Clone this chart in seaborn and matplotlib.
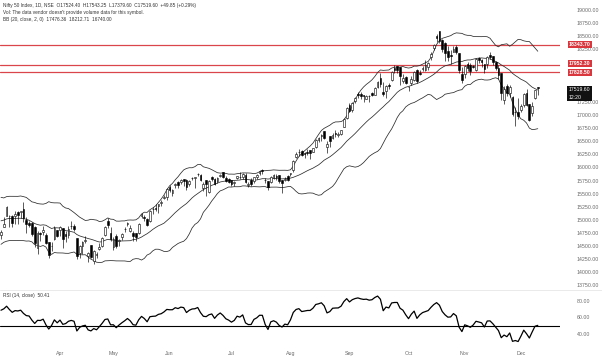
import numpy as np
import pandas as pd
import matplotlib
matplotlib.use("Agg")
import matplotlib.pyplot as plt
import matplotlib.transforms as mtransforms
import seaborn as sns

# ---------------- data ----------------
# warm-up closes (Feb 2021) used only for indicator calculation
warmup_close = [14281, 14647, 14790, 14896, 14924, 15116, 15110, 15106, 15173, 15163,
                15315, 15313, 15209, 15119, 14982, 14676, 14708, 14982, 15097, 14529]

month_keys = ["2021-03", "2021-04", "2021-05", "2021-06", "2021-07",
              "2021-08", "2021-09", "2021-10", "2021-11", "2021-12"]
month_labels = ["Mar", "Apr", "May", "Jun", "Jul", "Aug", "Sep", "Oct", "Nov", "Dec"]

days_mar = [1, 2, 3, 4, 5, 8, 9, 10, 12, 15, 16, 17, 18, 19, 22, 23, 24, 25, 26, 30, 31]
days_apr = [1, 5, 6, 7, 8, 9, 12, 13, 15, 16, 19, 20, 22, 23, 26, 27, 28, 29, 30]
days_may = [3, 4, 5, 6, 7, 10, 11, 12, 14, 17, 18, 19, 20, 21, 24, 25, 26, 27, 28, 31]
days_jun = [1, 2, 3, 4, 7, 8, 9, 10, 11, 14, 15, 16, 17, 18, 21, 22, 23, 24, 25, 28, 29, 30]
days_jul = [1, 2, 5, 6, 7, 8, 9, 12, 13, 14, 15, 16, 19, 20, 22, 23, 26, 27, 28, 29, 30]
days_aug = [2, 3, 4, 5, 6, 9, 10, 11, 12, 13, 16, 17, 18, 20, 23, 24, 25, 26, 27, 30, 31]
days_sep = [1, 2, 3, 6, 7, 8, 9, 13, 14, 15, 16, 17, 20, 21, 22, 23, 24, 27, 28, 29, 30]
days_oct = [1, 4, 5, 6, 7, 8, 11, 12, 13, 14, 18, 19, 20, 21, 22, 25, 26, 27, 28, 29]
days_nov = [1, 2, 3, 4, 8, 9, 10, 11, 12, 15, 16, 17, 18, 22, 23, 24, 25, 26, 29, 30]
days_dec = [1, 2, 3, 6, 7, 8, 9]

ohlc_mar = [(14702, 14806, 14638, 14761), (14864, 15052, 14864, 14919), (15064, 15273, 15064, 15245),
            (15064, 15093, 14863, 15080), (15065, 15092, 14863, 14938), (15065, 15162, 14919, 15115),
            (15155, 15174, 14916, 15098), (15143, 15176, 15034, 15174), (15202, 15336, 14954, 15030),
            (14996, 15051, 14745, 14929), (14946, 14981, 14865, 14910), (14947, 14956, 14696, 14721),
            (14855, 14875, 14478, 14557), (14471, 14778, 14350, 14744), (14737, 14763, 14597, 14736),
            (14768, 14878, 14707, 14814), (14713, 14753, 14535, 14549), (14570, 14575, 14265, 14324),
            (14499, 14572, 14414, 14507), (14628, 14877, 14617, 14845), (14811, 14813, 14670, 14691)]
ohlc_apr = [(14798, 14883, 14692, 14867), (14837, 14849, 14459, 14638), (14737, 14779, 14573, 14684),
            (14716, 14879, 14650, 14819), (14876, 14984, 14821, 14873), (14882, 14918, 14785, 14834),
            (14644, 14653, 14252, 14310), (14364, 14528, 14265, 14504), (14497, 14598, 14353, 14581),
            (14599, 14697, 14559, 14617), (14306, 14382, 14191, 14359), (14526, 14528, 14273, 14296),
            (14219, 14424, 14151, 14406), (14326, 14384, 14273, 14341), (14449, 14557, 14421, 14485),
            (14493, 14667, 14484, 14653), (14710, 14890, 14694, 14865), (14979, 15044, 14841, 14895),
            (14747, 14855, 14602, 14631)]
ohlc_may = [(14481, 14673, 14417, 14634), (14688, 14723, 14462, 14496), (14604, 14637, 14506, 14618),
            (14668, 14743, 14611, 14724), (14816, 14863, 14765, 14823), (14928, 14967, 14880, 14942),
            (14789, 14900, 14771, 14851), (14750, 14781, 14592, 14697), (14749, 14749, 14591, 14677),
            (14756, 14938, 14725, 14923), (15073, 15126, 15042, 15108), (15058, 15083, 14985, 15030),
            (15019, 15044, 14885, 14906), (14987, 15190, 14962, 15175), (15211, 15254, 15104, 15197),
            (15219, 15293, 15171, 15208), (15257, 15305, 15128, 15301), (15323, 15384, 15271, 15337),
            (15421, 15469, 15394, 15435), (15437, 15606, 15374, 15583)]
ohlc_jun = [(15629, 15660, 15528, 15574), (15521, 15597, 15459, 15576), (15655, 15705, 15612, 15690),
            (15713, 15733, 15606, 15670), (15725, 15773, 15678, 15751), (15774, 15778, 15649, 15740),
            (15766, 15788, 15566, 15635), (15692, 15752, 15649, 15738), (15797, 15823, 15766, 15799),
            (15791, 15823, 15607, 15811), (15867, 15901, 15842, 15869), (15847, 15880, 15749, 15768),
            (15612, 15715, 15559, 15691), (15757, 15761, 15450, 15683), (15525, 15765, 15505, 15746),
            (15813, 15836, 15749, 15772), (15783, 15800, 15673, 15687), (15738, 15821, 15707, 15790),
            (15839, 15870, 15809, 15860), (15916, 15916, 15792, 15814), (15807, 15835, 15724, 15748),
            (15776, 15800, 15705, 15721)]
ohlc_jul = [(15755, 15755, 15648, 15680), (15705, 15738, 15636, 15722), (15793, 15845, 15780, 15834),
            (15813, 15914, 15776, 15818), (15819, 15893, 15779, 15879), (15856, 15893, 15702, 15727),
            (15673, 15729, 15632, 15690), (15766, 15789, 15644, 15692), (15750, 15820, 15709, 15812),
            (15808, 15870, 15772, 15853), (15886, 15952, 15864, 15924), (15956, 15962, 15882, 15923),
            (15754, 15790, 15707, 15752), (15746, 15749, 15578, 15632), (15729, 15837, 15705, 15824),
            (15800, 15869, 15783, 15856), (15842, 15880, 15769, 15824), (15860, 15863, 15705, 15746),
            (15762, 15767, 15513, 15709), (15762, 15817, 15739, 15778), (15827, 15862, 15744, 15763)]
ohlc_aug = [(15874, 15892, 15834, 15885), (15951, 16146, 15914, 16130), (16195, 16290, 16177, 16258),
            (16288, 16349, 16210, 16295), (16304, 16336, 16223, 16238), (16284, 16301, 16189, 16258),
            (16287, 16360, 16237, 16280), (16327, 16339, 16162, 16282), (16303, 16375, 16286, 16364),
            (16386, 16543, 16376, 16529), (16518, 16589, 16480, 16563), (16600, 16628, 16495, 16615),
            (16691, 16701, 16535, 16569), (16382, 16509, 16270, 16451), (16592, 16592, 16395, 16496),
            (16562, 16647, 16535, 16625), (16656, 16712, 16589, 16634), (16627, 16683, 16582, 16637),
            (16642, 16722, 16611, 16705), (16775, 16952, 16765, 16931), (16947, 17153, 16916, 17132)]
ohlc_sep = [(17186, 17226, 17055, 17076), (17095, 17245, 17060, 17234), (17262, 17341, 17220, 17324),
            (17400, 17430, 17330, 17377), (17401, 17437, 17304, 17362), (17375, 17383, 17254, 17353),
            (17313, 17380, 17299, 17369), (17363, 17378, 17255, 17355), (17420, 17439, 17368, 17380),
            (17387, 17532, 17386, 17519), (17541, 17645, 17518, 17629), (17709, 17793, 17537, 17585),
            (17443, 17622, 17362, 17397), (17450, 17578, 17326, 17562), (17580, 17610, 17490, 17546),
            (17670, 17843, 17646, 17823), (17898, 17948, 17799, 17853), (17932, 17943, 17802, 17855),
            (17907, 17913, 17577, 17748), (17658, 17782, 17614, 17711), (17718, 17742, 17585, 17618)]
ohlc_oct = [(17531, 17557, 17452, 17532), (17615, 17750, 17581, 17691), (17661, 17833, 17640, 17822),
            (17862, 17884, 17613, 17646), (17810, 17857, 17763, 17790), (17887, 17941, 17841, 17895),
            (17867, 18041, 17839, 17946), (17916, 18008, 17865, 17992), (18097, 18198, 18050, 18162),
            (18272, 18351, 18248, 18339), (18500, 18543, 18402, 18477), (18602, 18604, 18377, 18419),
            (18439, 18458, 18200, 18267), (18382, 18384, 18034, 18179), (18230, 18315, 18034, 18115),
            (18154, 18241, 17968, 18125), (18204, 18310, 18198, 18268), (18295, 18342, 18167, 18211),
            (18188, 18190, 17799, 17857), (17784, 17916, 17614, 17672)]
ohlc_nov = [(17784, 17954, 17697, 17930), (17970, 18012, 17832, 17889), (17947, 17988, 17757, 17830),
            (17935, 17947, 17900, 17916), (17867, 18087, 17837, 18068), (18084, 18112, 17984, 18044),
            (18041, 18061, 17915, 18017), (17967, 17971, 17798, 17873), (17977, 18123, 17905, 18103),
            (18141, 18210, 18071, 18109), (18127, 18132, 17959, 18017), (18007, 18022, 17862, 17899),
            (17890, 17946, 17688, 17765), (17796, 17806, 17280, 17417), (17281, 17553, 17217, 17503),
            (17550, 17600, 17354, 17416), (17418, 17564, 17351, 17537), (17338, 17355, 16986, 17026),
            (17055, 17160, 16782, 17054), (17052, 17325, 16932, 16983)]
ohlc_dec = [(17104, 17213, 17064, 17167), (17183, 17420, 17150, 17401), (17425, 17490, 17180, 17197),
            (17209, 17216, 16891, 16913), (17044, 17251, 16987, 17177), (17315, 17484, 17308, 17470),
            (17524.40, 17543.25, 17379.60, 17519.60)]

hlines = [18343.70, 17952.30, 17828.50]
hline_label_y = [18343.70, 17985.00, 17815.00]   # label centres, nudged apart as in the reference
last_price = 17519.60
price_ticks = [13750 + 250 * k for k in range(22)]
hidden_ticks = [17500, 17750, 18000]               # covered by the level labels
rsi_ticks = [40, 60, 80]

header_1 = "Nifty 50 Index, 1D, NSE  O17524.40  H17543.25  L17379.60  C17519.60  +49.85 (+0.29%)"
header_2 = "Vol: The data vendor doesn't provide volume data for this symbol."
header_3 = "BB (20, close, 2, 0)  17476.36  18212.71  16740.00"
rsi_title = "RSI (14, close)  50.41"

# ---------------- build frame ----------------
all_days = [days_mar, days_apr, days_may, days_jun, days_jul, days_aug, days_sep, days_oct, days_nov, days_dec]
all_ohlc = [ohlc_mar, ohlc_apr, ohlc_may, ohlc_jun, ohlc_jul, ohlc_aug, ohlc_sep, ohlc_oct, ohlc_nov, ohlc_dec]
rows = []
for mk, dl, ol in zip(month_keys, all_days, all_ohlc):
    assert len(dl) == len(ol), mk
    for d, (o, h, l, c) in zip(dl, ol):
        rows.append((pd.Timestamp(f"{mk}-{d:02d}"), o, h, l, c))
df = pd.DataFrame(rows, columns=["date", "open", "high", "low", "close"])
df["idx"] = np.arange(len(df))

closes_full = pd.Series(list(warmup_close) + list(df["close"]), dtype=float)
basis = closes_full.rolling(20).mean()
dev = closes_full.rolling(20).std(ddof=0) * 2
delta = closes_full.diff()
gain = delta.clip(lower=0)
loss = -delta.clip(upper=0)
ag = gain.ewm(alpha=1 / 14, adjust=False).mean()
al = loss.ewm(alpha=1 / 14, adjust=False).mean()
rsi = 100 - 100 / (1 + ag / al)
n_w = len(warmup_close)
df["basis"] = basis.iloc[n_w:].values
df["upper"] = (basis + dev).iloc[n_w:].values
df["lower"] = (basis - dev).iloc[n_w:].values
df["rsi"] = rsi.iloc[n_w:].values

# ---------------- figure ----------------
sns.set_theme(style="white")
plt.rcParams["font.family"] = ["Liberation Sans", "DejaVu Sans"]

W, H = 602, 357
fig = plt.figure(figsize=(W / 100, H / 100), dpi=100)
fig.patch.set_facecolor("white")
plot_w = 560 / W
ax = fig.add_axes([0, 1 - 290 / H, plot_w, 290 / H])
ax2 = fig.add_axes([0, 1 - 343 / H, plot_w, (343 - 290) / H], sharex=ax)

xlim = (-0.35, 198.9)
ylim = (13661, 19194)

# Bollinger bands
band_color = "#2b2b2b"
for col in ["upper", "basis", "lower"]:
    sns.lineplot(data=df, x="idx", y=col, ax=ax, color=band_color, linewidth=0.55, legend=False)

# horizontal levels
for lv in hlines:
    ax.axhline(lv, color="#d9454a", linewidth=0.9, zorder=1)

# candles
up = df["close"] >= df["open"]
ax.vlines(df["idx"], df["low"], df["high"], color="black", linewidth=0.45, zorder=3)
body_bottom = np.minimum(df["open"], df["close"])
body_h = np.maximum(np.abs(df["close"] - df["open"]), 6)
ax.bar(df["idx"][up], body_h[up], bottom=body_bottom[up], width=0.62,
       facecolor="white", edgecolor="black", linewidth=0.4, zorder=4)
ax.bar(df["idx"][~up], body_h[~up], bottom=body_bottom[~up], width=0.62,
       facecolor="black", edgecolor="black", linewidth=0.4, zorder=4)

ax.set_xlim(*xlim)
ax.set_ylim(*ylim)
ax.yaxis.tick_right()
ax.set_yticks(price_ticks)
ax.set_yticklabels(["" if v in hidden_ticks else f"{v:.2f}" for v in price_ticks])
ax.tick_params(axis="y", length=0, pad=12, labelsize=3.8, labelcolor="#6a6a6a")
ax.tick_params(axis="x", length=0, labelbottom=False)
ax.set_xlabel("")
ax.set_ylabel("")
for s in ax.spines.values():
    s.set_visible(False)

# right-axis labels for levels
tr = mtransforms.blended_transform_factory(ax.transAxes, ax.transData)
for lv, ly in zip(hlines, hline_label_y):
    ax.text(1.0 + 9 / 560, ly, f"{lv:.2f}", transform=tr, ha="left", va="center",
            fontsize=3.7, color="white", fontweight="bold", clip_on=False, zorder=10,
            bbox=dict(boxstyle="square,pad=0.2", facecolor="#d9363e", edgecolor="none"))
ax.text(1.0 + 9 / 560, last_price - 110, f"{last_price:.2f}\n12:20", transform=tr, ha="left", va="center",
        fontsize=3.7, color="white", clip_on=False, zorder=10, linespacing=1.6,
        bbox=dict(boxstyle="square,pad=0.3", facecolor="#111111", edgecolor="none"))

# header
fig.text(3 / W, 1 - 5.5 / H, header_1, fontsize=3.4, color="#333333", va="center", ha="left")
fig.text(3 / W, 1 - 12.5 / H, header_2, fontsize=3.4, color="#333333", va="center", ha="left")
fig.text(3 / W, 1 - 19.5 / H, header_3, fontsize=3.4, color="#333333", va="center", ha="left")

# RSI pane
sns.lineplot(data=df, x="idx", y="rsi", ax=ax2, color="black", linewidth=0.9, legend=False)
ax2.axhline(50, color="black", linewidth=0.8, zorder=1)
ax2.set_ylim(29.2, 92.9)
ax2.yaxis.tick_right()
ax2.set_yticks(rsi_ticks)
ax2.set_yticklabels([f"{v:.2f}" for v in rsi_ticks])
ax2.tick_params(axis="y", length=0, pad=12, labelsize=3.8, labelcolor="#6a6a6a")
first_idx = df.groupby(df["date"].dt.to_period("M"))["idx"].min().values
ax2.set_xticks(first_idx[1:])
ax2.set_xticklabels(month_labels[1:])
ax2.tick_params(axis="x", length=0, pad=6, labelsize=3.8, labelcolor="#6a6a6a")
ax2.set_xlabel("")
ax2.set_ylabel("")
for s in ax2.spines.values():
    s.set_visible(False)
ax2.text(3 / 560, 1 - 6 / 53, rsi_title, transform=ax2.transAxes, fontsize=3.4,
         color="#333333", va="center", ha="left")

# pane separator
fig.add_artist(plt.Line2D([0, 1], [1 - 290 / H, 1 - 290 / H], color="#e6e6e6", linewidth=0.6))

fig.savefig("out.png", dpi=100, facecolor="white")
